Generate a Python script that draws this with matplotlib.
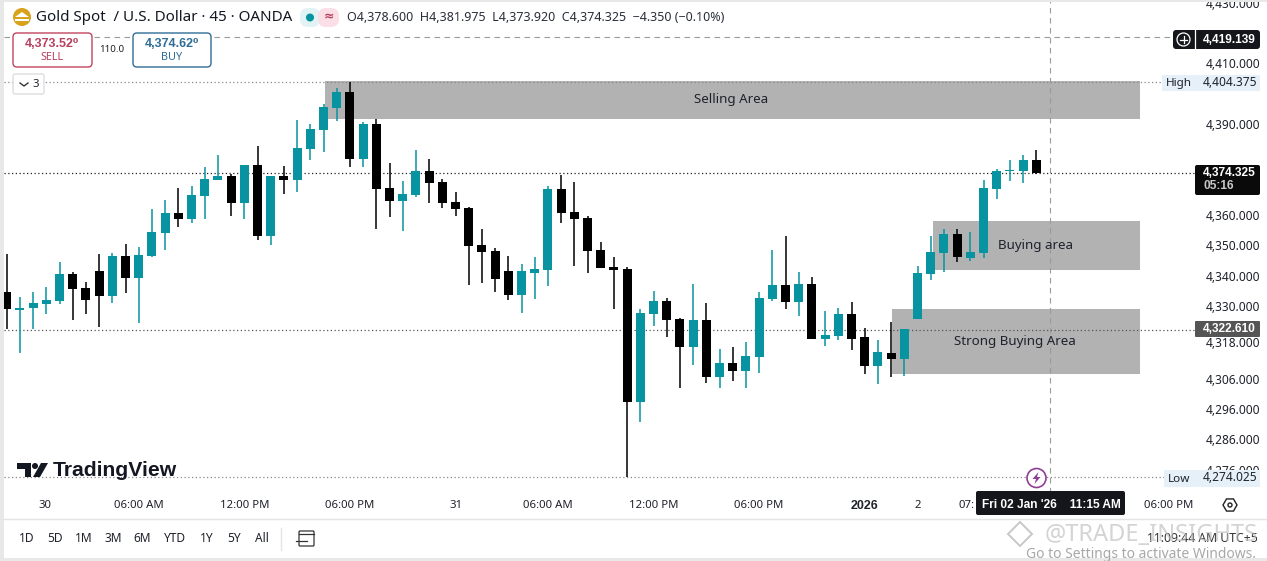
import matplotlib
matplotlib.use("Agg")
import matplotlib.pyplot as plt
import matplotlib.patches as patches
import matplotlib.transforms as transforms

plt.rcParams['font.family'] = ['Noto Sans', 'DejaVu Sans']

# candles, oldest first
opens = [4335.1, 4329.2, 4329.8, 4331.1, 4332.1, 4341.0, 4336.4, 4342.0, 4333.8, 4347.0,
         4339.7, 4347.0, 4354.6, 4361.2, 4359.2, 4366.8, 4372.0, 4373.4, 4364.5, 4377.0,
         4353.6, 4373.4, 4372.0, 4382.3, 4388.5, 4395.8, 4401.1, 4379.0, 4390.5, 4369.4,
         4365.1, 4367.1, 4375.0, 4371.4, 4364.8, 4362.8, 4350.6, 4348.6, 4342.0, 4334.1,
         4341.4, 4342.4, 4369.1, 4361.5, 4359.5, 4349.0, 4343.3, 4342.7, 4298.8, 4327.8,
         4332.1, 4326.2, 4316.9, 4325.9, 4307.0, 4311.7, 4309.0, 4313.6, 4332.8, 4337.4,
         4331.8, 4337.7, 4319.6, 4320.6, 4327.8, 4320.2, 4310.7, 4314.9, 4313.0, 4326.2,
         4341.0, 4348.0, 4354.2, 4346.3, 4348.0, 4369.1, 4375.0, 4375.0, 4378.6]
highs = [4347.6, 4333.4, 4335.1, 4336.7, 4345.0, 4341.7, 4338.4, 4347.6, 4348.0, 4350.9,
         4349.9, 4362.5, 4365.5, 4369.4, 4370.1, 4376.4, 4380.3, 4374.0, 4377.0, 4383.3,
         4373.4, 4376.7, 4391.9, 4390.5, 4397.1, 4402.4, 4404.375, 4391.2, 4392.2, 4377.7,
         4371.7, 4382.0, 4379.0, 4372.4, 4368.1, 4363.1, 4355.9, 4349.6, 4347.0, 4344.3,
         4346.6, 4370.1, 4373.7, 4371.4, 4360.2, 4351.6, 4346.6, 4343.3, 4329.5, 4335.4,
         4333.1, 4326.5, 4337.7, 4331.5, 4316.3, 4316.9, 4318.6, 4335.1, 4348.9, 4353.6,
         4341.7, 4340.0, 4328.8, 4329.8, 4331.8, 4323.2, 4319.3, 4325.2, 4322.9, 4343.7,
         4353.6, 4355.9, 4355.9, 4354.9, 4372.0, 4375.7, 4378.6, 4380.3, 4381.975]
lows = [4322.9, 4314.9, 4322.9, 4327.8, 4331.1, 4325.9, 4327.8, 4323.5, 4331.5, 4334.8,
        4324.9, 4346.6, 4349.0, 4356.5, 4357.9, 4359.2, 4372.0, 4360.2, 4359.2, 4352.3,
        4350.6, 4367.4, 4368.1, 4378.6, 4381.3, 4391.5, 4376.4, 4376.4, 4355.9, 4359.8,
        4355.2, 4366.5, 4364.5, 4362.8, 4360.2, 4337.4, 4338.1, 4335.1, 4332.5, 4328.2,
        4332.8, 4337.1, 4357.9, 4343.7, 4341.4, 4343.0, 4329.5, 4274.025, 4292.2, 4323.9,
        4320.2, 4303.4, 4311.0, 4305.1, 4303.4, 4305.7, 4303.4, 4308.4, 4332.1, 4329.5,
        4327.2, 4319.6, 4317.3, 4319.3, 4316.0, 4308.0, 4304.7, 4307.0, 4307.4, 4326.2,
        4339.0, 4341.7, 4345.0, 4345.3, 4346.3, 4365.8, 4371.7, 4371.1, 4373.92]
closes = [4329.5, 4329.8, 4331.5, 4332.5, 4341.0, 4336.1, 4332.5, 4333.8, 4347.0, 4339.7,
          4347.3, 4354.9, 4361.2, 4359.2, 4367.1, 4372.4, 4373.4, 4364.5, 4377.0, 4353.6,
          4373.4, 4372.0, 4382.6, 4388.9, 4396.1, 4401.1, 4379.0, 4390.5, 4369.1, 4365.1,
          4367.4, 4375.0, 4371.1, 4364.5, 4362.5, 4350.3, 4348.3, 4339.4, 4334.1, 4342.0,
          4342.7, 4369.1, 4361.2, 4359.2, 4348.6, 4343.0, 4342.4, 4298.8, 4328.2, 4332.1,
          4325.9, 4316.9, 4325.9, 4307.0, 4311.7, 4309.0, 4314.0, 4333.1, 4337.4, 4331.8,
          4337.7, 4319.6, 4320.9, 4327.8, 4319.6, 4310.7, 4315.3, 4313.0, 4322.9, 4341.4,
          4348.3, 4354.2, 4346.6, 4348.3, 4369.4, 4375.0, 4375.3, 4378.6, 4374.325]

price_ticks = [4430, 4410, 4390, 4360, 4350, 4340, 4330, 4318, 4306, 4296, 4286, 4276]
time_ticks = [2.9, 10, 18, 26, 34, 41, 49, 57, 65, 69, 72.7, 88]
time_labels = ["30", "06:00 AM", "12:00 PM", "06:00 PM", "31", "06:00 AM", "12:00 PM",
               "06:00 PM", "2026", "2", "07:", "06:00 PM"]

zone_names = ["Selling Area", "Buying area", "Strong Buying Area"]
zone_start = [24.1, 70.2, 67.1]
zone_end = [85.85, 85.85, 85.85]
zone_top = [4404.7, 4358.5, 4329.5]
zone_bottom = [4392.2, 4342.4, 4308.0]

session_high = 4404.375
session_low = 4274.025
last_price = 4374.325
prev_price = 4322.61
cross_price = 4419.139
cross_bar = 79.05

range_buttons = ["1D", "5D", "1M", "3M", "6M", "YTD", "1Y", "5Y", "All"]

teal = "#07939f"
ink = "#1f222b"
W, H = 1267, 561
BOLD = ["Liberation Sans", "DejaVu Sans"]

fig = plt.figure(figsize=(W / 100, H / 100), dpi=100, facecolor="white")

# chart pane, the price scale sits to its right
ax = fig.add_axes([4 / W, 1 - 493 / H, 1193 / W, 493 / H])
ax.set_xlim(-0.205, 90.17)
ax.set_ylim(4268.76, 4431.45)
for s in ax.spines.values():
    s.set_visible(False)

for i in range(len(zone_names)):
    ax.add_patch(patches.Rectangle((zone_start[i], zone_bottom[i]),
                                   zone_end[i] - zone_start[i],
                                   zone_top[i] - zone_bottom[i],
                                   facecolor="#b2b2b2", edgecolor="none", zorder=1))

for p, c in [(session_high, "#888888"), (last_price, "#222222"),
             (prev_price, "#555555"), (session_low, "#888888")]:
    ax.axhline(p, color=c, lw=0.9, ls=(0, (1, 2)), zorder=2)
ax.plot([-0.205, 88.4], [cross_price, cross_price], color="#9a9a9a", lw=0.8, ls=(0, (5, 4)), zorder=2)
ax.axvline(cross_bar, color="#9a9a9a", lw=0.8, ls=(0, (5, 4)), zorder=2)

for i in range(len(opens)):
    c = teal if closes[i] >= opens[i] else "black"
    ax.plot([i, i], [lows[i], highs[i]], color=c, lw=1.1, zorder=3, solid_capstyle="butt")
    ax.bar(i, abs(closes[i] - opens[i]), bottom=min(opens[i], closes[i]), width=0.68,
           color=c, linewidth=0, zorder=4)

for i in range(len(zone_names)):
    ax.text((zone_start[i] + zone_end[i]) / 2 - 0.1, (zone_top[i] + zone_bottom[i]) / 2,
            zone_names[i], fontsize=9.6, color=ink, ha="center", va="center", zorder=5)

ax.yaxis.tick_right()
ax.set_yticks(price_ticks)
ax.set_yticklabels([f"{p:,.3f}" for p in price_ticks], fontsize=8.6, color=ink)
ax.set_xticks(time_ticks)
ax.set_xticklabels(time_labels, fontsize=8.2, color=ink)
ax.tick_params(axis="y", length=0, pad=6)
ax.tick_params(axis="x", length=0, pad=5)
ax.get_xticklabels()[8].set(fontweight="bold", family=BOLD, fontsize=9)
# the scale labels sit a little above their prices
nudge = transforms.ScaledTranslation(0, 1.5 / 100, fig.dpi_scale_trans)
for t in ax.get_yticklabels():
    t.set_transform(t.get_transform() + nudge)

# everything around the chart, in pixels of the screenshot
ui = fig.add_axes([0, 0, 1, 1], zorder=10)
ui.set_xlim(0, W)
ui.set_ylim(H, 0)
ui.axis("off")

def box(x0, y0, x1, y1, fc, ec="none", r=0, lw=1):
    if r:
        ui.add_patch(patches.FancyBboxPatch((x0 + r, y0 + r), x1 - x0 - 2 * r, y1 - y0 - 2 * r,
                                            boxstyle=f"round,pad={r},rounding_size={r}",
                                            fc=fc, ec=ec, lw=lw))
    else:
        ui.add_patch(patches.Rectangle((x0, y0), x1 - x0, y1 - y0, fc=fc, ec=ec, lw=lw))

def label(x, y, s, size=8.6, color=ink, ha="left", **kw):
    ui.text(x, y, s, fontsize=size, color=color, ha=ha, va="center", **kw)

def bold(x, y, s, size=8.6, color="white", ha="left"):
    ui.text(x, y, s, fontsize=size, color=color, ha=ha, va="center", fontweight="bold", family=BOLD)

# window edges
box(0, 0, 4, H, "#e8e8e8")
box(0, 558, W, H, "#e8e8e8")
box(0, 0, W, 1.5, "#e8e8e8")
ui.plot([4, W], [519, 519], color="#e4e4e4", lw=1)

# header
ui.add_patch(patches.Circle((22, 17), 9, fc="#d9a21b", ec="none"))
ui.add_patch(patches.Polygon([[15, 17], [22, 12], [29, 17]], fc="white", ec="none"))
ui.add_patch(patches.Rectangle((15, 19), 14, 2, fc="white", ec="none"))
label(36, 17, "Gold Spot  / U.S. Dollar · 45 · OANDA", size=10.9, color="#131722")
box(300, 8, 320, 27, "#e3f2f4", r=8)
box(318, 8, 339, 27, "#fbdfe6", r=8)
ui.add_patch(patches.Circle((310, 17.5), 4, fc=teal, ec="none"))
label(328.5, 17, "≈", size=9, color="#b8405f", ha="center", fontweight="bold")
label(347, 17, "O4,378.600  H4,381.975  L4,373.920  C4,374.325  −4.350 (−0.10%)", size=9, color="#2a2e39")

# buy and sell buttons
box(13, 33, 92, 67, "white", ec="#c0455f", r=4)
bold(52, 44, "4,373.52⁰", size=9, color="#b8405f", ha="center")
label(52, 57, "SELL", size=7.8, color="#b8405f", ha="center")
label(112, 49.5, "110.0", size=7, color="#222222", ha="center")
box(133, 33, 211, 67, "white", ec="#2f6d96", r=4)
bold(172, 44, "4,374.62⁰", size=9, color="#2f6d96", ha="center")
label(172, 57, "BUY", size=7.8, color="#2f6d96", ha="center")

# collapsed indicators button
box(13, 74, 44, 94, "white", ec="#dddddd", r=2)
ui.plot([20, 24, 28], [83, 86, 83], color="#333333", lw=1)
label(36, 84.5, "3", size=8.2, ha="center")

# price scale tags
box(1173, 30, 1260, 49, "#14161c", r=3)
ui.plot([1194.5, 1194.5], [30, 49], color="white", lw=0.9)
ui.add_patch(patches.Circle((1183.5, 39.5), 6.5, fc="none", ec="white", lw=0.9))
ui.plot([1180, 1187], [39.5, 39.5], color="white", lw=0.9)
ui.plot([1183.5, 1183.5], [36, 43], color="white", lw=0.9)
bold(1203, 39.5, "4,419.139")

box(1162, 75, 1260, 91, "#e6f0f8")
label(1166, 83, "High", size=8.4)
label(1203, 82.5, "4,404.375")

box(1195, 165, 1260, 195, "#0a0a0a", r=2)
bold(1203, 173, "4,374.325")
bold(1203, 186, "05:16", color="#c8c8c8")

box(1195, 321, 1260, 337, "#555555", r=1)
bold(1203, 329, "4,322.610")

box(1164, 470, 1260, 487, "#e6f0f8")
label(1168, 479, "Low", size=8.4)
label(1203, 477.5, "4,274.025")

# crosshair date tag
box(976, 491, 1125, 515, "#14161c", r=2)
bold(1051, 505, "Fri 02 Jan '26    11:15 AM", size=8.6, ha="center")

# event marker and settings hexagon
ui.add_patch(patches.Circle((1036.5, 478), 9.5, fc="white", ec="#8e3f93", lw=1.2))
ui.add_patch(patches.Polygon([[1038.5, 472], [1032.5, 479], [1036, 479], [1034.5, 484],
                              [1040.5, 477], [1037, 477]], fc="#8e3f93", ec="none"))
ui.add_patch(patches.RegularPolygon((1230, 505), 6, radius=7, fc="none", ec="#222222", lw=1, orientation=0.52))
ui.add_patch(patches.Circle((1230, 505), 2, fc="none", ec="#222222", lw=1))

# logo
ui.add_patch(patches.Polygon([[17, 463], [31, 463], [31, 477], [25, 477], [25, 469], [17, 469]], fc="#131722", ec="none"))
ui.add_patch(patches.Circle((35, 466), 3, fc="#131722", ec="none"))
ui.add_patch(patches.Polygon([[41, 463], [48, 463], [40, 477], [33, 477]], fc="#131722", ec="none"))
bold(53, 470, "TradingView", size=15.2, color="#131722")

# bottom toolbar
button_x = [27, 55, 84, 113, 142, 175, 207, 234, 262]
for x, s in zip(button_x, range_buttons):
    label(x, 539, s, size=8.6, ha="center")
ui.plot([281, 281], [528, 550], color="#e4e4e4", lw=1)
ui.add_patch(patches.FancyBboxPatch((299, 531), 15, 15, boxstyle="round,pad=0,rounding_size=1", fc="none", ec="#333333", lw=0.9))
ui.plot([296, 307], [541, 541], color="#333333", lw=0.9)
ui.plot([299, 314], [534, 534], color="#333333", lw=0.9)

label(1258, 539, "11:09:44 AM UTC+5", size=8.8, color="#333333", ha="right")
ui.add_patch(patches.RegularPolygon((1020, 534), 4, radius=12, fc="none", ec="#c8c8c8", lw=1.4))
label(1258, 535, "@TRADE_INSIGHTS", size=17, color="#bdbdbd", ha="right", alpha=0.65)
label(1256, 555, "Go to Settings to activate Windows.", size=10, color="#a8a8a8", ha="right")

fig.savefig("out.png", dpi=100)
